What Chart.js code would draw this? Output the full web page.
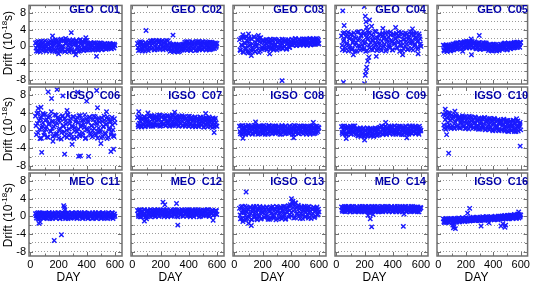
<!DOCTYPE html>
<html><head><meta charset="utf-8">
<script src="https://cdn.jsdelivr.net/npm/chart.js@4"></script>
<style>
body{margin:0;width:533px;height:282px;overflow:hidden;background:#fff;position:relative;font-family:"Liberation Sans",Arial,sans-serif}
canvas{position:absolute;left:0;top:0}
.t{position:absolute;font-weight:bold;font-size:11px;line-height:11px;color:#0000a8;text-align:right;white-space:pre}
.yl{position:absolute;font-size:12px;line-height:12px;white-space:nowrap;color:#000;transform:translate(-50%,-50%) rotate(-90deg)}
.yl sup{font-size:8px;line-height:0;vertical-align:5px}
.xl{position:absolute;font-size:12px;line-height:12px;color:#000;transform:translateX(-50%)}
</style></head><body>
<script>
const days = [36,43,50,57,64,71,78,85,92,99,106,113,120,127,134,141,148,155,162,169,176,183,190,197,204,211,218,225,232,239,246,253,260,267,274,281,288,295,302,309,316,323,330,337,344,351,358,365,372,379,386,393,400,407,414,421,428,435,442,449,456,463,470,477,484,491,498,505,512,519,526,533,540,547,554,561,568,575,582,589,596];
const days2 = [40,47,54,61,68,75,82,89,96,103,110,117,124,131,138,145,152,159,166,173,180,187,194,201,208,215,222,229,236,243,250,257,264,271,278,285,292,299,306,313,320,327,334,341,348,355,362,369,376,383,390,397,404,411,418,425,432,439,446,453,460,467,474,481,488,495,502,509,516,523,530,537,544,551,558,565,572,579,586,593,600];

const xTickValues = [0,100,200,300,400,500,600];
const yTickValues = [-8,-6,-4,-2,0,2,4,6,8];

const c01 = [0.8,-1.1,0.2,1.2,-0.5,-1.3,0.6,-0.1,1.1,-0.8,0.3,-1.2,0.9,0.4,-0.6,1.3,-0.3,-1.1,0.9,0.2,1.6,-0.9,-1.3,1.2,0.5,-0.4,1.7,-1.0,0.0,1.4,-1.2,0.7,1.5,-0.6,-1.3,1.0,0.3,-0.8,1.6,-1.1,0.6,1.3,-0.4,-1.2,0.9,1.5,-0.7,0.2,1.2,-1.0,0.8,-0.3,1.4,-0.8,0.6,-0.5,0.9,0.1,-0.9,0.7,-0.2,0.8,-0.7,0.4,-0.6,0.8,0.0,-0.8,0.6,-0.3,0.7,-0.6,0.3,-0.5,0.6,-0.2,0.5,-0.6,0.4,-0.3,0.5];
const c01b = [-0.4,1.0,-1.2,0.5,0.0,1.2,-0.9,0.7,-0.3,1.3,-1.0,0.1,-0.6,1.0,-1.1,0.6,0.2,1.4,-0.7,-1.2,0.8,1.5,-0.2,0.4,-1.1,1.3,0.0,-0.6,1.6,-1.2,0.6,1.1,-0.9,0.2,1.5,-0.5,-1.0,1.2,0.5,-1.3,0.9,1.4,-0.3,0.1,-1.1,1.6,0.7,-0.8,1.0,-0.2,1.3,-0.9,0.4,0.5,-0.7,0.8,-0.3,0.2,-0.8,0.9,-0.5,0.3,0.7,-0.9,0.1,-0.4,0.8,-0.6,0.4,-0.1,0.6,-0.7,0.2,0.5,-0.4,0.7,-0.5,0.1,0.6,-0.4,0.2];
const c01Out = [[157,2.5],[290,3.3],[321,-2.0],[393,2.1],[469,-2.4],[250,1.9],[200,-1.8]];

const c02 = [0.7,-1.0,0.2,1.1,-0.5,-1.1,0.5,0.0,0.9,-0.8,0.3,-1.0,0.8,1.3,-0.6,0.6,1.4,-0.8,0.1,1.2,-0.7,0.9,1.4,-0.5,0.3,1.3,-0.8,0.7,1.1,-0.6,0.4,1.3,-0.7,-1.2,0.4,-0.9,0.3,-1.3,-0.2,0.5,-1.2,-0.5,0.4,-1.1,0.2,-0.8,0.5,-0.8,1.0,0.2,-0.9,1.1,-0.3,0.8,-1.0,0.5,1.1,-0.6,0.0,1.0,-0.9,0.6,1.2,-0.5,0.3,1.0,-0.8,0.7,-0.4,1.1,-0.7,0.4,0.9,-0.8,0.2,1.0,-0.6,0.6,-0.5,0.8,0.1];
const c02b = [-0.3,0.9,-0.9,0.4,1.0,-0.6,0.1,-1.1,0.7,0.2,-0.5,1.0,-0.2,0.2,1.2,-0.4,0.9,-0.8,1.4,0.5,-0.3,1.0,-0.7,0.6,1.3,-0.2,0.0,1.1,-0.6,1.4,0.3,-0.5,0.8,0.3,-1.0,-0.4,0.5,-1.2,0.0,-0.8,0.4,-1.3,-0.1,0.2,-0.9,-0.5,0.3,0.6,-0.5,1.1,-0.9,0.3,0.9,-0.7,0.0,1.0,-0.4,0.7,-1.0,0.4,1.1,-0.3,-0.8,0.8,0.2,-0.6,1.1,-0.2,0.5,-0.9,0.9,0.0,-0.5,1.0,-0.7,0.3,0.8,-0.4,0.6,-0.2,0.7];
const c02Out = [[97,3.8],[288,2.7]];

const c03 = [1.6,-1.0,0.4,2.1,-1.4,0.9,-0.3,2.3,-1.2,1.2,0.1,-1.5,1.9,0.6,-0.8,2.2,-1.3,0.3,1.5,-0.6,2.0,-1.1,0.8,-0.2,1.5,-0.6,0.3,1.6,-0.8,1.0,-0.3,1.7,-0.7,0.6,1.4,-0.5,0.2,1.6,-0.9,0.9,1.3,-0.4,0.4,1.7,-0.6,1.0,0.0,1.5,-0.5,0.8,1.6,-0.2,0.6,1.7,0.3,1.3,0.5,1.8,0.2,1.1,1.6,0.4,1.4,0.6,1.8,0.3,1.2,1.6,0.5,1.5,0.7,1.8,0.4,1.3,1.7,0.5,1.6,0.8,1.9,0.6,1.4];
const c03b = [-0.8,1.9,0.2,-1.3,2.2,0.7,-0.5,1.4,-1.6,2.0,0.4,-0.9,1.7,-0.2,2.3,-1.2,0.9,0.0,1.8,-1.4,1.1,2.1,-0.7,1.3,-0.4,1.2,0.7,-0.7,1.6,0.1,0.9,-0.5,1.4,0.3,-0.8,1.7,0.5,-0.2,1.1,-0.6,1.5,0.2,0.8,-0.4,1.6,0.0,1.2,-0.7,0.6,1.5,-0.3,1.0,0.4,0.4,1.5,0.8,1.9,0.2,1.2,0.6,1.7,0.3,1.4,1.0,0.5,1.8,0.7,1.3,0.2,1.6,0.9,1.9,0.4,1.2,0.8,1.7,0.5,1.5,1.0,1.8,0.7];
const c03Out = [[338,-8.2],[60,2.8],[120,-2.2],[170,2.6],[250,-1.8],[100,3.0]];

const c04 = [2.5,-0.8,1.2,3.3,-0.3,0.6,2.8,-1.1,1.8,0.2,3.0,-0.6,1.4,2.2,-1.2,0.9,3.4,0.1,1.7,-0.9,2.6,0.4,3.6,-0.5,1.1,2.9,-1.0,1.9,0.3,3.2,-0.7,1.5,2.4,-0.2,0.8,3.5,-1.0,2.0,0.5,2.8,-0.6,1.3,3.1,0.0,2.2,-1.1,1.6,3.3,0.4,-0.4,2.7,1.0,-0.9,3.0,0.6,1.8,-0.3,2.5,3.4,-1.2,1.2,0.2,2.9,-0.6,1.7,3.2,0.5,-0.8,2.3,1.4,3.5,-0.5,0.9,2.6,0.1,1.9,3.1,-0.7,1.3,2.4,0.6];
const c04b = [0.2,3.1,1.6,-1.0,2.4,0.7,3.4,-0.4,1.9,2.8,-0.8,1.0,3.2,0.3,2.0,-1.1,1.5,3.5,0.0,2.6,-0.6,1.3,3.0,0.6,-1.2,2.2,1.7,3.3,-0.3,0.9,2.7,-0.9,1.4,3.6,0.4,2.1,-0.5,1.1,3.0,0.2,-1.0,2.5,1.8,0.5,3.2,-0.7,1.2,2.3,0.0,3.4,1.5,-0.8,2.8,0.8,1.9,3.1,-0.4,1.0,2.4,0.3,3.3,-1.1,1.6,2.6,0.1,1.2,3.0,-0.6,2.0,0.7,2.9,1.4,-0.9,3.2,0.5,2.2,1.1,-0.3,3.0,1.8,0.0];
const c04Out = [[45,8.5],[50,-8.6],[55,5.0],[198,9.5],[205,7.2],[210,5.9],[215,4.6],[222,3.8],[200,-8.9],[205,-6.9],[210,-6.0],[215,-5.0],[222,-3.5],[230,-2.6],[235,6.3],[283,-2.4],[330,4.3],[420,4.5],[470,-2.0],[540,4.2],[580,-1.8],[120,-2.0],[250,4.8]];

const c05 = [0.3,-1.1,-0.2,0.4,-1.2,-0.5,0.2,-1.0,0.1,-0.8,0.6,-0.6,0.2,0.7,-0.7,0.9,-0.3,0.5,1.0,-0.5,0.8,-0.3,1.1,0.2,-0.4,1.2,0.5,-0.3,1.0,0.1,1.2,-0.2,0.7,0.3,-0.6,0.8,-0.2,0.9,-0.7,0.4,0.7,-0.5,0.2,0.8,-0.6,0.5,-0.1,-1.0,0.4,-0.6,0.2,-1.1,-0.3,0.5,-0.9,0.0,-0.8,0.3,-1.0,-0.2,0.4,-0.7,0.6,-0.4,0.8,0.1,-0.8,0.5,-0.3,0.7,-0.6,0.2,0.6,-0.4,1.0,0.2,0.9,-0.3,0.8,0.4,1.0];
const c05b = [-0.9,0.2,-0.5,-1.2,0.3,-0.7,-0.1,-1.1,0.4,0.1,-0.9,0.5,-0.4,0.8,0.0,-0.6,0.6,-0.2,0.9,0.3,-0.4,0.9,0.0,1.1,-0.3,0.6,1.2,-0.2,0.4,0.9,-0.4,0.8,1.1,0.0,0.5,-0.5,0.9,0.2,-0.7,0.6,0.0,0.9,-0.6,0.3,0.8,-0.4,0.4,-0.5,0.3,-1.0,-0.1,0.5,-0.8,-0.3,0.4,-1.1,-0.5,0.2,-0.7,0.5,-0.4,0.3,-0.6,0.7,-0.2,0.5,-0.8,0.8,0.0,-0.5,0.6,-0.3,0.4,0.8,-0.3,0.6,1.0,0.0,0.5,-0.2,0.9];
const c05Out = [[177,-1.2],[239,1.75],[241,-2.0],[298,2.6]];

const c06 = [3.2,-1.0,1.5,4.0,0.2,2.6,-1.8,1.0,3.5,-0.5,2.2,0.8,-1.5,3.0,1.6,-0.2,4.2,0.5,2.0,-1.2,1.2,3.4,-0.8,2.5,0.0,1.8,-2.0,3.1,0.9,-0.4,2.7,1.4,-1.6,3.6,0.3,2.1,-0.9,1.0,3.0,-1.9,0.6,2.4,-0.3,1.7,3.3,-1.3,0.8,2.2,-0.6,1.3,3.5,-1.7,0.4,2.0,-0.2,2.9,-1.1,1.1,0.0,3.2,-0.8,1.6,2.5,-1.8,0.5,1.9,-0.4,2.8,-1.4,0.9,2.3,-0.9,1.4,3.0,-1.6,0.2,2.1,-0.5,1.2,-1.2,2.6];
const c06b = [1.0,3.8,-0.6,2.2,-1.9,3.0,0.5,1.7,-1.1,3.6,0.2,2.4,-1.6,1.3,3.2,-0.3,2.0,-1.4,0.8,3.5,-0.9,1.6,2.9,-1.8,0.4,2.6,-0.5,3.3,1.0,-1.3,2.1,0.0,3.4,-1.0,1.5,2.7,-1.7,0.7,3.1,-0.2,1.9,-1.5,2.8,0.3,-0.8,3.3,1.2,-1.2,2.3,0.6,-1.9,2.6,0.1,1.8,3.0,-0.7,1.0,-1.5,2.4,0.4,3.1,-1.1,1.5,-0.3,2.7,0.0,-1.7,2.0,0.8,3.2,-0.6,1.3,-1.9,2.5,0.5,1.8,-1.0,2.9,0.1,-1.4,1.7];
const c06Out = [[55,5.0],[75,5.2],[90,3.8],[126,8.7],[150,7.2],[189,9.2],[230,7.8],[336,8.6],[399,6.6],[476,5.1],[470,9.0],[80,-5.0],[160,-2.5],[243,-5.4],[296,-3.2],[342,-5.9],[355,-5.8],[413,-5.9],[500,-3.0],[571,-4.8],[590,-4.3],[260,4.5],[540,4.2]];

const c07 = [2.9,0.8,1.6,3.0,0.7,2.3,1.1,3.1,0.9,2.0,2.8,1.0,1.7,3.2,0.9,2.5,1.3,3.3,1.1,2.2,3.0,1.2,2.6,3.4,1.0,1.9,3.2,1.4,2.8,1.1,3.3,2.0,1.2,3.1,2.4,1.0,3.4,1.6,2.7,1.2,3.2,2.1,1.1,2.9,1.5,3.3,1.0,2.4,3.0,1.3,2.2,3.1,0.9,2.6,1.7,3.0,1.0,2.3,2.9,0.8,2.0,2.8,0.9,1.6,2.9,1.1,2.4,0.7,2.7,1.5,2.8,0.8,1.9,2.6,1.0,2.3,0.6,2.5,1.4,2.7,1.0];
const c07b = [1.2,3.2,2.2,0.9,2.7,1.5,3.0,0.8,2.4,1.8,1.0,3.1,2.0,1.3,3.3,0.9,2.6,1.6,3.0,1.2,2.4,3.4,0.9,1.8,3.0,1.3,2.5,3.3,1.0,2.1,1.5,3.2,0.9,2.6,1.8,3.4,1.1,2.2,3.0,1.4,2.5,0.9,3.2,1.8,2.4,1.0,3.1,1.6,0.9,2.7,1.3,2.0,3.2,1.1,2.5,0.8,2.2,1.5,3.0,1.2,2.6,0.9,2.2,3.0,1.3,1.9,2.8,0.7,2.1,1.2,2.5,1.6,3.0,0.9,2.0,1.4,2.8,0.8,2.2,1.7,0.9];
const c07Out = [[45,4.2],[110,3.9],[300,4.1],[520,3.8],[580,-0.5]];

const c08 = [0.9,-0.8,0.3,1.1,-0.6,0.5,-1.0,0.8,0.0,-0.7,1.0,-0.4,0.6,-0.9,0.2,1.1,-0.6,0.4,-0.3,0.9,-0.8,0.7,0.1,1.0,-0.5,0.3,-0.9,0.8,0.2,-0.6,1.1,-0.3,0.5,-0.8,0.9,0.0,-0.7,1.0,0.3,-0.5,0.7,-0.9,0.4,1.1,-0.4,0.2,-0.8,0.9,-0.1,0.6,-0.7,1.0,0.1,-0.5,0.8,-0.9,0.4,1.0,-0.3,0.5,-0.8,0.9,0.0,-0.6,0.7,1.0,-0.4,0.3,-0.9,0.8,0.1,-0.6,1.0,-0.2,0.6,-0.8,0.4,0.9,-0.5,0.2,0.7];
const c08b = [-0.3,1.0,-0.9,0.6,0.1,-0.5,0.9,-0.2,1.1,-0.8,0.4,-0.1,0.9,-0.7,0.6,-0.4,1.0,0.0,-0.9,0.5,0.9,-0.5,0.2,-0.8,1.1,0.4,-0.2,0.7,-0.9,1.0,-0.4,0.3,0.8,-0.7,0.1,1.0,-0.6,0.5,-0.2,0.9,-0.5,0.2,-0.9,0.8,0.5,-0.3,1.0,-0.7,0.3,-0.4,0.9,-0.2,0.6,-0.9,0.2,1.1,-0.5,0.0,0.8,-0.7,0.4,-0.3,1.0,0.6,-0.8,0.2,0.9,-0.5,0.5,-0.1,0.8,-0.9,0.3,1.0,-0.4,0.6,-0.7,0.1,0.9,-0.3,0.5];
const c08Out = [[60,-1.8],[150,1.9],[420,-1.7],[560,1.8]];

const c09 = [0.8,-0.9,0.2,1.0,-0.7,0.4,-1.0,0.7,-0.2,0.9,-0.8,0.3,1.0,-0.5,0.1,-1.0,0.4,-1.3,-0.2,0.5,-1.1,-0.6,0.3,-1.4,0.1,-0.9,0.5,-1.2,-0.3,0.4,-1.3,-0.7,0.2,-1.1,0.5,-0.5,-1.2,0.3,-0.8,0.7,-0.4,0.9,-1.0,0.2,0.8,-0.7,0.5,-0.3,1.0,-0.8,0.3,0.8,-0.6,0.1,1.0,-0.9,0.4,-0.2,0.9,-0.7,0.5,-1.0,0.7,0.0,-0.6,1.0,-0.4,0.3,-0.9,0.8,0.1,-0.6,1.0,-0.3,0.5,-0.8,0.7,0.2,-0.5,0.9,-0.2];
const c09b = [-0.5,0.9,-0.2,0.6,-1.0,0.3,0.8,-0.6,0.1,-0.9,0.7,-0.3,0.5,1.0,-0.7,0.2,-1.2,0.3,-0.7,-1.4,0.2,-0.5,0.5,-1.0,-0.2,-1.3,0.4,-0.8,0.0,-1.2,0.3,-0.6,-1.4,0.1,-0.9,0.4,-0.3,-1.1,0.6,-0.3,1.0,-0.8,0.2,-0.5,0.9,-1.0,0.4,0.0,-0.7,0.8,-0.2,0.5,-0.9,1.0,0.1,-0.5,0.7,-0.8,0.3,0.9,-0.4,0.2,-1.0,0.6,-0.1,0.8,-0.7,0.4,-0.5,1.0,0.0,-0.8,0.6,-0.3,0.9,-0.6,0.2,0.7,-0.9,0.4,0.0];
const c09Out = [[70,-1.9],[200,-2.2],[350,1.8],[500,-1.7]];

const c10 = [3.6,0.5,2.4,4.0,0.8,3.0,1.2,3.8,0.4,2.6,3.2,0.7,2.0,3.5,1.0,2.7,0.6,3.1,1.5,2.3,3.3,0.8,1.9,3.0,0.5,2.5,1.2,3.2,0.9,2.1,2.9,0.6,1.7,3.0,0.4,2.3,1.1,2.8,0.3,1.9,2.7,0.5,1.5,2.9,0.2,2.1,1.0,2.6,0.1,1.6,2.5,0.3,1.3,2.7,0.0,1.9,0.8,2.4,-0.1,1.4,2.3,0.2,1.1,2.5,-0.2,1.7,0.6,2.2,-0.3,1.2,2.1,0.0,0.9,2.3,-0.3,1.5,0.4,2.0,-0.2,1.0,1.8];
const c10b = [1.2,3.3,0.2,2.8,1.7,3.9,0.6,2.2,3.4,1.0,2.9,0.4,1.8,3.2,0.9,2.4,3.0,0.5,1.9,2.8,1.1,3.1,0.4,2.2,1.6,2.9,0.3,1.9,3.0,1.0,2.4,0.5,1.6,2.8,0.9,2.0,0.2,2.6,1.4,0.6,2.5,1.0,2.8,0.1,1.8,2.4,0.4,1.3,2.7,0.7,2.2,-0.1,1.6,2.5,0.5,1.1,2.3,0.2,1.7,2.1,0.0,1.4,2.4,0.4,1.0,2.2,-0.2,1.5,0.8,2.0,-0.1,1.2,2.2,0.3,1.6,-0.3,0.8,2.1,0.5,1.4,0.1];
const c10Out = [[75,-5.2],[596,-3.6],[50,4.8],[120,4.3],[60,-1.0],[570,2.6]];

const c11 = [0.6,-0.4,0.2,0.8,-0.5,0.4,-0.2,0.7,0.0,-0.4,0.7,0.1,-0.5,0.5,0.8,-0.3,0.3,-0.5,0.6,0.0,0.8,-0.4,0.4,-0.1,0.7,-0.5,0.2,0.8,-0.3,0.5,-0.2,0.7,0.1,-0.5,0.6,0.3,-0.4,0.8,0.0,0.5,-0.3,0.7,-0.5,0.4,0.8,-0.2,0.2,0.6,-0.4,0.3,0.8,-0.3,0.5,-0.5,0.1,0.7,-0.2,0.4,0.8,-0.4,0.2,0.6,-0.5,0.3,0.8,-0.1,0.5,-0.4,0.7,0.0,-0.3,0.6,0.2,-0.5,0.8,0.1,0.4,-0.3,0.7,-0.1,0.5];
const c11b = [0.1,0.7,-0.5,0.3,0.8,-0.2,0.5,-0.4,0.7,0.2,-0.3,0.6,0.0,0.8,-0.5,0.4,0.7,-0.2,0.1,0.6,-0.4,0.3,0.8,0.0,-0.5,0.6,0.2,-0.3,0.7,0.4,-0.5,0.1,0.8,-0.2,0.5,-0.4,0.7,0.2,-0.3,0.6,0.0,0.8,-0.4,0.3,-0.1,0.7,0.5,-0.5,0.2,0.8,-0.2,0.4,0.6,-0.4,0.7,0.0,0.3,-0.5,0.6,0.1,0.8,-0.3,0.4,-0.1,0.7,0.2,-0.5,0.5,0.8,-0.2,0.3,-0.4,0.6,0.1,0.7,-0.3,0.2,0.8,-0.5,0.4,0.0];
const c11Out = [[69,-1.3],[60,-1.6],[169,-5.5],[220,-4.2],[236,2.4],[241,2.0],[245,1.5]];

const c12 = [1.3,0.0,0.8,1.5,-0.1,1.0,0.3,1.4,0.5,-0.1,1.2,0.6,0.0,1.5,0.9,0.2,1.3,0.4,-0.1,1.1,0.7,1.5,0.1,0.9,1.4,0.3,1.0,-0.1,1.2,0.6,1.5,0.2,0.8,1.3,0.0,1.1,0.5,1.5,0.3,0.9,1.4,-0.1,0.7,1.2,0.4,1.5,0.1,1.0,0.6,1.3,0.0,0.9,1.5,0.3,1.1,0.5,1.4,-0.1,0.8,1.2,0.2,1.5,0.6,1.0,0.0,1.3,0.7,1.4,0.2,0.9,1.2,0.4,1.5,0.0,1.0,0.6,1.3,0.3,1.1,0.5,1.2];
const c12b = [0.4,1.4,-0.1,0.9,1.2,0.2,1.5,0.6,0.0,1.1,1.4,0.3,0.8,-0.1,1.3,0.5,1.0,1.5,0.1,0.7,1.2,0.0,1.4,0.6,0.3,1.1,1.5,0.2,0.8,1.3,-0.1,1.0,0.5,1.4,0.1,0.9,1.2,0.4,1.5,0.0,1.1,0.7,1.3,0.2,0.8,1.4,0.0,1.2,0.5,0.9,1.5,0.3,1.0,-0.1,1.3,0.7,0.2,1.1,1.5,0.4,0.8,1.2,-0.1,1.4,0.5,0.9,0.1,1.3,1.0,0.3,1.5,0.6,0.0,1.2,0.8,1.4,0.2,1.0,0.6,1.3,0.4];
const c12Out = [[85,-1.1],[217,3.2],[230,2.6],[313,2.9],[322,-2.0],[573,-0.9],[100,-0.6]];

const c13 = [1.8,-0.6,0.9,2.2,-0.8,1.2,0.2,2.0,-0.5,1.5,0.4,2.1,-0.7,1.0,1.9,-0.3,0.6,2.2,-0.8,1.3,0.1,1.8,-0.6,0.9,2.1,-0.2,1.4,0.3,2.0,-0.7,1.1,1.9,-0.4,0.7,2.2,0.0,1.5,-0.8,1.0,2.0,-0.3,0.8,2.1,-0.6,1.3,0.4,2.2,-0.5,1.0,1.8,-0.2,1.4,2.3,0.1,2.8,-0.4,1.6,3.0,0.5,2.0,-0.1,1.7,0.6,2.2,-0.5,1.2,1.9,0.0,1.4,2.1,-0.4,0.9,1.8,0.2,1.5,2.0,-0.3,1.1,1.7,0.3,1.6];
const c13b = [0.3,2.1,-0.5,1.4,0.8,2.3,-0.7,1.0,1.7,-0.2,2.0,0.6,-0.8,1.5,2.2,0.1,1.1,-0.5,1.8,0.4,2.2,-0.6,1.3,0.7,1.9,-0.3,0.9,2.1,0.0,1.6,-0.7,1.2,2.0,0.3,-0.4,1.7,0.8,2.2,-0.6,1.4,0.5,1.9,-0.2,1.1,2.2,0.2,-0.7,1.6,0.9,2.4,0.3,2.6,0.8,3.2,1.2,2.2,-0.3,1.9,0.7,2.5,1.0,-0.5,2.0,0.4,1.5,2.3,-0.2,0.9,1.8,0.2,2.2,1.2,-0.5,1.6,0.6,2.0,0.0,1.3,2.1,0.5,1.0];
const c13Out = [[83,5.5],[100,-1.6],[120,-2.1],[405,4.0],[415,3.4],[430,3.0],[60,-1.2]];

const c14 = [2.1,1.1,1.7,2.2,1.0,1.9,1.3,2.2,1.5,1.0,2.0,1.4,2.2,1.1,1.8,1.2,2.1,1.6,1.0,2.0,1.3,2.2,1.5,1.0,1.9,2.1,1.2,1.7,2.2,1.1,1.8,1.0,2.1,1.4,2.2,1.2,1.9,1.0,1.6,2.1,1.3,2.2,1.1,1.8,2.0,1.2,1.5,2.2,1.0,1.9,1.4,2.1,1.1,1.7,2.2,1.3,1.0,2.0,1.6,2.2,1.2,1.8,1.0,2.1,1.5,2.2,1.1,1.9,1.3,2.0,1.0,1.7,2.2,1.2,1.9,1.4,2.1,1.0,1.8,1.5,2.0];
const c14b = [1.4,2.0,1.1,1.8,2.2,1.2,1.6,2.1,1.0,1.7,2.2,1.3,1.9,1.0,1.5,2.1,1.2,1.8,2.2,1.4,1.0,1.9,1.6,2.2,1.1,1.4,2.0,1.0,1.8,1.5,2.2,1.2,1.7,2.0,1.0,1.6,2.2,1.3,1.9,1.1,1.8,1.0,2.1,1.5,1.2,2.2,1.4,1.9,1.1,1.7,2.2,1.0,1.6,2.0,1.2,1.8,2.2,1.4,1.0,1.9,1.5,2.1,1.2,1.7,2.2,1.0,1.6,2.0,1.3,1.8,2.2,1.1,1.5,2.0,1.2,1.8,1.4,2.1,1.0,1.7,1.9];
const c14Out = [[225,0.2],[240,-0.6],[250,-2.4],[235,0.8],[475,-2.3],[480,0.5],[260,0.4]];

const c16 = [-0.6,-1.4,-0.8,-0.5,-1.3,-0.9,-1.5,-0.6,-1.1,-0.7,-1.3,-0.5,-1.0,-0.6,-1.3,-0.8,-0.4,-1.2,-0.7,-1.0,-0.3,-1.1,-0.6,-0.9,-0.3,-1.1,-0.5,-0.8,-1.0,-0.4,-0.9,-0.2,-0.7,-0.4,-1.0,-0.3,-0.6,-0.9,-0.2,-0.6,-0.8,-0.1,-0.5,-0.9,-0.3,-0.6,-0.1,-0.8,-0.4,-0.6,-0.1,-0.7,-0.3,-0.8,0.0,-0.5,-0.2,-0.7,-0.4,0.0,-0.5,0.1,-0.6,-0.2,0.2,-0.4,-0.1,-0.6,0.2,-0.3,0.3,-0.4,0.0,-0.3,0.4,-0.1,-0.5,0.3,0.0,0.4,-0.2];
const c16b = [-1.2,-0.7,-1.4,-1.0,-0.6,-1.3,-0.8,-1.1,-0.5,-1.4,-0.9,-0.6,-1.2,-0.8,-0.5,-1.1,-1.3,-0.7,-0.9,-0.5,-1.0,-0.6,-1.2,-0.4,-0.8,-1.0,-0.5,-1.1,-0.6,-0.9,-0.4,-0.8,-1.0,-0.5,-0.7,-0.2,-0.9,-0.5,-1.0,-0.3,-0.5,-0.9,-0.3,-0.7,-0.1,-0.6,-0.9,-0.4,-0.2,-0.8,-0.5,-0.2,-0.6,-0.1,-0.7,-0.3,-0.8,0.0,-0.5,-0.6,-0.1,-0.6,-0.3,0.1,-0.5,-0.2,0.2,-0.4,-0.6,0.0,-0.2,0.2,-0.5,0.1,-0.1,0.3,-0.3,0.5,-0.4,0.1,0.3];
const c16Out = [[105,-2.0],[110,-2.6],[115,-2.3],[124,-2.8],[213,0.7],[228,1.8],[311,-2.2],[368,-1.5],[456,-2.2],[485,-2.5],[490,-2.0],[585,1.0],[470,-1.7]];

const titles = ['GEO  C01','GEO  C02','GEO  C03','GEO  C04','GEO  C05',
                'IGSO  C06','IGSO  C07','IGSO  C08','IGSO  C09','IGSO  C10',
                'MEO  C11','MEO  C12','IGSO  C13','MEO  C14','IGSO  C16'];
const seriesA = [c01,c02,c03,c04,c05,c06,c07,c08,c09,c10,c11,c12,c13,c14,c16];
const seriesB = [c01b,c02b,c03b,c04b,c05b,c06b,c07b,c08b,c09b,c10b,c11b,c12b,c13b,c14b,c16b];
const outliers = [c01Out,c02Out,c03Out,c04Out,c05Out,c06Out,c07Out,c08Out,c09Out,c10Out,c11Out,c12Out,c13Out,c14Out,c16Out];

const W = 533, H = 282;
const boxLeft = [29,131,233,335,437], boxW = 93;
const boxTop = [1,87,173], boxH = 83;
const YAXW = 24, XAXH = 16;
const FONT = '"Liberation Sans", Arial, sans-serif';
const BLUE = '#1a1aff';
const FRAME = '#707070';

const framePlugin = {
  id: 'frame',
  afterDraw(chart) {
    const {ctx, chartArea: a, scales: {x, y}} = chart;
    ctx.save();
    ctx.strokeStyle = FRAME;
    ctx.lineWidth = 1;
    ctx.beginPath();
    x.ticks.forEach(t => {
      const px = Math.round(x.getPixelForValue(t.value)) + 0.5;
      const len = t.value % 200 === 0 ? 4 : 2.5;
      ctx.moveTo(px, a.bottom); ctx.lineTo(px, a.bottom - len);
      ctx.moveTo(px, a.top); ctx.lineTo(px, a.top + len);
    });
    y.ticks.forEach(t => {
      const py = Math.round(y.getPixelForValue(t.value)) + 0.5;
      const len = t.value % 4 === 0 ? 4 : 2.5;
      ctx.moveTo(a.left, py); ctx.lineTo(a.left + len, py);
      ctx.moveTo(a.right, py); ctx.lineTo(a.right - len, py);
    });
    ctx.stroke();
    ctx.lineWidth = 1.5;
    ctx.strokeRect(a.left, a.top, a.right - a.left, a.bottom - a.top);
    ctx.restore();
  }
};

function zeroPad(s) { s.paddingLeft = 0; s.paddingRight = 0; s.paddingTop = 0; s.paddingBottom = 0; }
function toPoints(xs, ys) { return xs.map((d, i) => ({x: d, y: ys[i]})); }
function ds(data) { return {data, pointStyle: 'crossRot', pointRadius: 3.1, pointBorderWidth: 1.4, borderColor: BLUE, backgroundColor: BLUE}; }

for (let r = 0; r < 3; r++) {
  for (let c = 0; c < 5; c++) {
    const k = r * 5 + c;
    const L = boxLeft[c], T = boxTop[r];
    const isLeft = c === 0, isBottom = r === 2;
    const cv = document.createElement('canvas');
    cv.width = W; cv.height = H;
    document.body.appendChild(cv);
    new Chart(cv, {
      type: 'scatter',
      data: {datasets: [
        ds(toPoints(days, seriesA[k])),
        ds(toPoints(days2, seriesB[k])),
        ds(outliers[k].map(p => ({x: p[0], y: p[1]})))
      ]},
      options: {
        responsive: false, animation: false, devicePixelRatio: 1,
        events: [],
        layout: {padding: {left: L - YAXW, top: T, right: W - (L + boxW), bottom: H - (T + boxH) - XAXH}},
        plugins: {legend: {display: false}, tooltip: {enabled: false}, title: {display: false}},
        scales: {
          x: {
            type: 'linear', position: 'bottom', min: -10, max: 650,
            afterBuildTicks: s => { s.ticks = xTickValues.map(v => ({value: v})); },
            afterFit: s => { s.height = XAXH; zeroPad(s); },
            grid: {display: false, drawTicks: false},
            border: {display: false},
            ticks: {
              stepSize: 100, includeBounds: false, autoSkip: false, maxRotation: 0, minRotation: 0,
              padding: 2, color: '#000', font: {family: FONT, size: 11},
              callback: v => (isBottom && v % 200 === 0) ? String(v) : ''
            }
          },
          y: {
            type: 'linear', position: 'left', min: -9, max: 9.8,
            afterBuildTicks: s => { s.ticks = yTickValues.map(v => ({value: v})); },
            afterFit: s => { s.width = YAXW; zeroPad(s); },
            grid: {display: true, color: '#9a9a9a', lineWidth: 1, drawTicks: false},
            border: {display: false, dash: [1, 2]},
            ticks: {
              stepSize: 2, includeBounds: false, autoSkip: false,
              padding: 3, color: '#000', font: {family: FONT, size: 11},
              callback: v => (isLeft && v % 4 === 0) ? String(v) : ''
            }
          }
        }
      },
      plugins: [framePlugin]
    });

    const t = document.createElement('div');
    t.className = 't';
    t.style.left = L + 'px';
    t.style.width = (boxW - 2) + 'px';
    t.style.top = (T + 3) + 'px';
    t.textContent = titles[k];
    document.body.appendChild(t);

    if (isLeft) {
      const yl = document.createElement('div');
      yl.className = 'yl';
      yl.style.left = '8px';
      yl.style.top = (T + boxH / 2) + 'px';
      yl.innerHTML = 'Drift (10<sup>-18</sup>s)';
      document.body.appendChild(yl);
    }
    if (isBottom) {
      const xl = document.createElement('div');
      xl.className = 'xl';
      xl.style.left = (L + boxW / 2 - 7) + 'px';
      xl.style.top = '271px';
      xl.textContent = 'DAY';
      document.body.appendChild(xl);
    }
  }
}
</script>
</body></html>
